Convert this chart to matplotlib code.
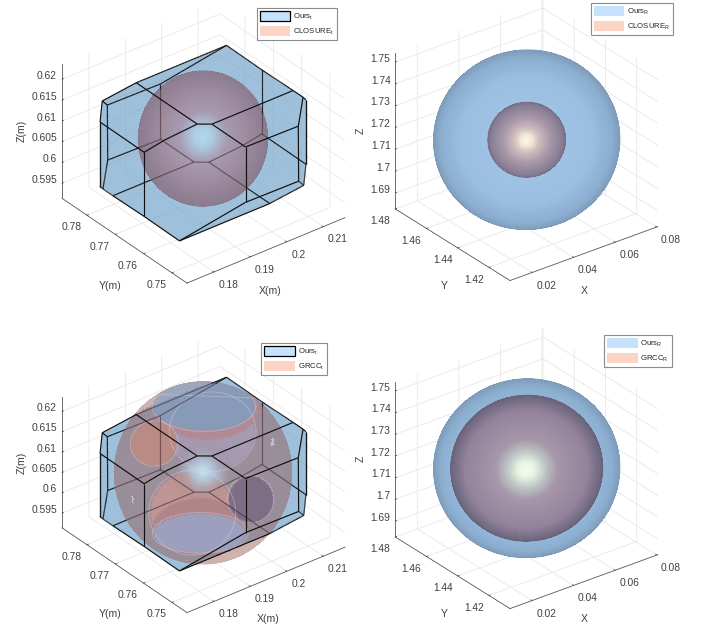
import numpy as np
import matplotlib
matplotlib.use('Agg')
import matplotlib.pyplot as plt
from matplotlib.patches import Patch
from matplotlib.path import Path
from mpl_toolkits.mplot3d.art3d import Poly3DCollection, Line3DCollection

plt.rcParams['font.family'] = ['Liberation Sans', 'DejaVu Sans']
plt.rcParams['mathtext.fontset'] = 'custom'
plt.rcParams['mathtext.rm'] = 'Liberation Sans'

W, H = 702, 627
TEXT = '#404040'

# axis ranges and ticks, translation panels
t_xlim = [0.1726, 0.2160]
t_ylim = [0.7447, 0.7888]
t_zlim = [0.5914, 0.6236]
t_xticks = [0.18, 0.19, 0.2, 0.21]
t_yticks = [0.75, 0.76, 0.77, 0.78]
t_zticks = [0.595, 0.6, 0.605, 0.61, 0.615, 0.62]
t_zlabels = ['0.595', '0.6', '0.605', '0.61', '0.615', '0.62']

# axis ranges and ticks, rotation panels
r_xlim = [0.0094, 0.0805]
r_ylim = [1.4065, 1.48]
r_zlim = [1.6827, 1.754]
r_xticks = [0.02, 0.04, 0.06, 0.08]
r_yticks = [1.42, 1.44, 1.46, 1.48]
r_zticks = [1.69, 1.7, 1.71, 1.72, 1.73, 1.74, 1.75]
r_zlabels = ['1.69', '1.7', '1.71', '1.72', '1.73', '1.74', '1.75']

# centres and radii
t_center = [0.1942, 0.7668, 0.607]
closure_t_center = [0.1942, 0.7668, 0.6081]
grcc_t_center = [0.1942, 0.7668, 0.6073]
r_center = [0.0487, 1.4481, 1.715]
closure_t_radius = 0.0140
grcc_t_radius = 0.0192
ours_r_radius = 0.0358
closure_r_radius = 0.0149
grcc_r_radius = 0.0292

# polytope vertices around t_center (in cm), the other half is the mirror image
ours_t_half = np.array([
    [1.814, 1.5, 1], [-0.666, 1.5, 1], [-0.666, -0.65, 1], [-0.416, -0.85, 1],
    [1.814, -0.85, 1], [1.814, -1.2, 1], [1.8, 0.235, 1], [-1.6, 1.5, 0.9],
    [-1.8, 1.32, 0.55], [-1.8, -0.235, 0.54], [-1.25, -0.235, 0.63], [0, -1.5, 0.6],
    [1.45, -1.5, 0.575], [0, -1.5, -0.73], [1.46, -1.5, -0.75], [1.8, -1.32, 1]])
ours_t_edges = [(0, 6), (6, 4), (4, 5), (0, 1), (1, 2), (2, 3), (3, 4), (1, 7), (7, 8), (8, 9),
                (9, 10), (10, 2), (9, 22), (3, 11), (11, 12), (11, 13), (12, 14), (13, 16),
                (13, 14), (12, 5), (14, 23), (5, 15), (15, 24), (8, 31)]
ours_t_faces = [[0, 1, 2, 3, 4, 6], [4, 5, 12, 11, 3], [11, 12, 14, 13], [16, 13, 14, 23, 17],
                [8, 9, 22, 21, 31], [10, 2, 3, 11, 13, 16, 22, 9], [1, 7, 8, 9, 10, 2],
                [5, 15, 24, 23, 14, 12]]
ours_t_outline = [0, 5, 15, 24, 23, 17, 16, 21, 31, 8, 7, 1]

# shading ramps: distance from the middle of the disc, then rgba
blue_stops = [0, 0.7, 0.92, 1]
blue_ramp = [(135, 180, 222, 0.75), (122, 168, 215, 0.75), (100, 145, 190, 0.75), (82, 122, 162, 0.75)]
closure_t_stops = [0, 0.12, 0.36, 0.65, 1]
closure_t_ramp = [(185, 232, 250, 0.6), (180, 215, 235, 0.6), (172, 130, 150, 0.6), (159, 104, 119, 0.6), (122, 76, 93, 0.6)]
closure_r_stops = [0, 0.15, 0.3, 0.6, 0.9, 1]
closure_r_ramp = [(255, 255, 232, 0.9), (255, 234, 206, 0.85), (219, 190, 181, 0.8), (169, 140, 154, 0.8), (131, 109, 129, 0.8), (110, 92, 116, 0.8)]
grcc_r_stops = [0, 0.1, 0.25, 0.4, 0.8, 1]
grcc_r_ramp = [(255, 255, 241, 0.9), (244, 253, 225, 0.85), (194, 196, 188, 0.8), (169, 140, 156, 0.8), (144, 115, 137, 0.8), (94, 77, 100, 0.8)]
grcc_t_stops = [0, 0.12, 0.3, 1]
grcc_t_ramp = [(205, 238, 250, 0.75), (190, 205, 220, 0.55), (150, 70, 60, 0.4), (140, 70, 60, 0.42)]
# patches where the sphere leaves the polytope: cx, cy, rx, ry on the disc, r, g, b, rim
grcc_t_patches = [
    (0.11, 0.44, 0.49, 0.44, 167, 145, 169, True),
    (0.04, 0.70, 0.61, 0.37, 180, 126, 131, False),
    (0.01, 0.72, 0.585, 0.28, 129, 145, 175, True),
    (-0.55, 0.31, 0.27, 0.25, 192, 126, 112, True),
    (-0.12, -0.45, 0.49, 0.46, 198, 139, 131, True),
    (-0.03, -0.60, 0.55, 0.32, 180, 118, 118, False),
    (-0.03, -0.67, 0.54, 0.22, 155, 151, 181, True),
    (0.54, -0.30, 0.26, 0.26, 117, 89, 112, True),
    (0.78, 0.32, 0.02, 0.05, 205, 185, 195, False),
    (-0.79, -0.31, 0.012, 0.04, 205, 190, 205, False)]

# screen layout: box middle in pixels, elev, azim, box sides
t_view = (32, -128)
r_view = (28.5, -127.4)
AX_SIZE = 300
POLY_FACE = np.array([0.42, 0.62, 0.78])
POLY_ALPHA = 0.4


def make_axes(cx, cy, view, box, xlim, ylim, zlim, xticks, yticks, zticks, zlabels):
    left = (cx - 0.5135 * AX_SIZE) / W
    bottom = (H - cy - 0.5135 * AX_SIZE) / H
    ax = plt.gcf().add_axes([left, bottom, AX_SIZE / W, AX_SIZE / H], projection='3d')
    ax.patch.set_alpha(0)
    ax.set_proj_type('ortho')
    ax.view_init(elev=view[0], azim=view[1])
    ax.computed_zorder = False
    s = np.array(box) / (AX_SIZE / 1.85)
    ax.set_box_aspect(s, zoom=np.linalg.norm(s) / (1.8294640721620434 * 25 / 24))
    ax.set_xlim(xlim)
    ax.set_ylim(ylim)
    ax.set_zlim(zlim)
    ax.set_xticks(xticks)
    ax.set_yticks(yticks)
    ax.set_zticks(zticks)
    ax.set_xticklabels([str(v) for v in xticks], ha='left')
    ax.set_yticklabels([str(v) for v in yticks], ha='right')
    ax.set_zticklabels(zlabels, ha='right', va='baseline')
    for axis in (ax.xaxis, ax.yaxis, ax.zaxis):
        axis.set_pane_color((1, 1, 1, 0))
        axis.pane.set_edgecolor((1, 1, 1, 0))
        axis.line.set_color('#555555')
        axis.line.set_linewidth(0.6)
        axis._axinfo['grid'].update(color='#e8e8e8', linewidth=0.6)
        axis._axinfo['tick'].update(inward_factor=0.0, outward_factor=0.12, linewidth={True: 0.5, False: 0.5})
    ax.tick_params(axis='x', labelsize=7.4, colors=TEXT, pad=-4)
    ax.tick_params(axis='y', labelsize=7.4, colors=TEXT, pad=-4)
    ax.tick_params(axis='z', labelsize=7.4, colors=TEXT, pad=-6)
    return ax


def add_names(names, spots):
    # axis names sit straight below the axes in the reference, so they are placed by hand
    for name, (px, py), rot in zip(names, spots, (0, 0, 90)):
        plt.gcf().text(px / W, 1 - py / H, name, fontsize=7.6, color=TEXT, rotation=rot, ha='center', va='center')


def view_basis(view):
    el, az = np.radians(view[0]), np.radians(view[1])
    v = np.array([np.cos(el) * np.cos(az), np.cos(el) * np.sin(az), np.sin(el)])
    e1 = np.array([-np.sin(az), np.cos(az), 0])
    e2 = np.cross(v, e1)
    return v, e1, e2


def ramp_colors(t, stops, ramp):
    ramp = np.array(ramp, dtype=float)
    out = np.zeros(t.shape + (4,))
    for i in range(4):
        out[..., i] = np.interp(t, stops, ramp[:, i])
    out[..., :3] /= 255
    return out


def flatten(rgba, under):
    return rgba[..., :3] * rgba[..., 3:] + under * (1 - rgba[..., 3:])


def white_under(sx, sy):
    return np.ones(sx.shape + (3,))


def polytope_under(center, radius, view, poly_center):
    # what lies behind a disc: polytope colour inside its outline, paper outside
    _, e1, e2 = view_basis(view)
    offs = np.vstack([ours_t_half, -ours_t_half]) * 0.01 + np.array(poly_center) - np.array(center)
    outline = offs[ours_t_outline]
    path = Path(np.column_stack([outline @ e1, outline @ e2]) / radius)
    inside_rgb = 1 - (1 - POLY_FACE) * (1 - (1 - POLY_ALPHA) ** 2)

    def under(sx, sy):
        pts = np.column_stack([sx.ravel(), sy.ravel()])
        mask = path.contains_points(pts).reshape(sx.shape)
        out = np.ones(sx.shape + (3,))
        out[mask] = inside_rgb
        return out
    return under


def blue_under(radius):
    def under(sx, sy):
        t = np.hypot(sx, sy) * radius / ours_r_radius
        return flatten(ramp_colors(t, blue_stops, blue_ramp), 1.0)
    return under


def draw_disc(ax, center, radius, view, stops, ramp, zorder, under, patches=None):
    # only the half of the sphere that faces the camera; colours flattened to avoid seams
    v, e1, e2 = view_basis(view)
    t = np.linspace(0, 1, 71)
    phi = np.linspace(0, 2 * np.pi, 141)
    T, P = np.meshgrid(t, phi, indexing='ij')
    c = np.sqrt(1 - T ** 2)
    X = center[0] + radius * (c * v[0] + T * (np.cos(P) * e1[0] + np.sin(P) * e2[0]))
    Y = center[1] + radius * (c * v[1] + T * (np.cos(P) * e1[1] + np.sin(P) * e2[1]))
    Z = center[2] + radius * (c * v[2] + T * (np.cos(P) * e1[2] + np.sin(P) * e2[2]))
    tm = 0.5 * (t[1:] + t[:-1])
    pm = 0.5 * (phi[1:] + phi[:-1])
    Tm, Pm = np.meshgrid(tm, pm, indexing='ij')
    sx, sy = Tm * np.cos(Pm), Tm * np.sin(Pm)
    rgba = ramp_colors(Tm, stops, ramp)
    if patches is not None:
        base = rgba.copy()
        for cx, cy, rx, ry, r, g, b, rim in patches:
            d = ((sx - cx) / rx) ** 2 + ((sy - cy) / ry) ** 2
            w = np.clip((1 - d) / 0.12, 0, 1)[..., None]
            rgba = rgba * (1 - w) + np.array([r / 255, g / 255, b / 255, 0.8]) * w
            if rim:
                a = np.linspace(0, 2 * np.pi, 121)
                ex, ey = cx + rx * np.cos(a), cy + ry * np.sin(a)
                keep = ex ** 2 + ey ** 2 < 0.99
                ex, ey = ex[keep], ey[keep]
                ez = np.sqrt(1 - ex ** 2 - ey ** 2)
                ring = np.array(center) + radius * (np.outer(ez, v) + np.outer(ex, e1) + np.outer(ey, e2))
                ax.plot(ring[:, 0], ring[:, 1], ring[:, 2], color=(0.84, 0.80, 0.88), alpha=0.45, lw=0.7,
                        zorder=zorder + 0.5)
        h = np.exp(-(Tm / 0.2) ** 2)[..., None]
        rgba = rgba * (1 - h) + base * h
    flat = flatten(rgba, under(sx, sy))
    colors = np.dstack([flat, np.ones(Tm.shape)])
    surf = ax.plot_surface(X, Y, Z, facecolors=colors, rstride=1, cstride=1, shade=False,
                           linewidth=0, antialiased=False, zorder=zorder)
    surf.set_edgecolor('none')
    # smooth rim over the aliased mesh
    ring = np.column_stack([X[-1], Y[-1], Z[-1]])
    ax.add_collection3d(Line3DCollection(np.stack([ring[:-1], ring[1:]], axis=1), colors=colors[-1],
                                         linewidths=0.8, zorder=zorder))


def draw_polytope(ax, center, view, sphere_center, sphere_radius):
    offs = np.vstack([ours_t_half, -ours_t_half])
    pts = np.array(center) + offs * 0.01
    n = len(ours_t_half)
    mirror = lambda i: (i + n) % (2 * n)
    faces = [[pts[i] for i in f] for f in ours_t_faces]
    faces += [[pts[mirror(i)] for i in f] for f in ours_t_faces]
    ax.add_collection3d(Poly3DCollection(faces, facecolors=tuple(POLY_FACE) + (POLY_ALPHA,), edgecolors='none', zorder=1))
    v, e1, e2 = view_basis(view)
    front, back, back_colors = [], [], []
    for a, b in ours_t_edges + [(mirror(a), mirror(b)) for a, b in ours_t_edges]:
        if np.dot(offs[a] + offs[b], v) >= 0:
            front.append([pts[a], pts[b]])
        else:
            # lines behind the sphere show through it faintly
            ends = np.linspace(pts[a], pts[b], 31)
            for p, q in zip(ends[:-1], ends[1:]):
                m = 0.5 * (p + q) - np.array(sphere_center)
                hidden = np.hypot(m @ e1, m @ e2) < sphere_radius
                back.append([p, q])
                back_colors.append((0.25, 0.15, 0.15, 0.6) if hidden else (0.08, 0.08, 0.08, 1))
    ax.add_collection3d(Line3DCollection(back, colors=back_colors, linewidths=0.85, zorder=3))
    ax.add_collection3d(Line3DCollection(front, colors='#101010', linewidths=0.85, zorder=4))


def add_legend(right, top, labels, outlined):
    blue = Patch(facecolor='#c5e1fb', edgecolor='black' if outlined else '#c5e1fb', linewidth=0.9 if outlined else 0)
    red = Patch(facecolor='#fdd3c6', edgecolor='#fdd3c6', linewidth=0)
    leg = plt.gcf().legend([blue, red], labels, loc='upper right', bbox_to_anchor=(right / W, 1 - top / H),
                           fontsize=5.6, handlelength=3.9, handleheight=1.6, labelspacing=0.45,
                           borderpad=0.4, handletextpad=0.35, borderaxespad=0, fancybox=False, framealpha=1,
                           edgecolor='#8c8c8c')
    leg.get_frame().set_linewidth(0.8)
    for txt in leg.get_texts():
        txt.set_color('#262626')


fig = plt.figure(figsize=(W / 100, H / 100), dpi=100)

ax1 = make_axes(203.5, 141, t_view, (200.5, 203, 158), t_xlim, t_ylim, t_zlim, t_xticks, t_yticks,
                t_zticks, t_zlabels)
draw_polytope(ax1, t_center, t_view, closure_t_center, closure_t_radius)
draw_disc(ax1, closure_t_center, closure_t_radius, t_view, closure_t_stops, closure_t_ramp, 2,
          polytope_under(closure_t_center, closure_t_radius, t_view, t_center))
add_names(('X(m)', 'Y(m)', 'Z(m)'), ((270, 291), (110, 286), (22, 131)))

ax2 = make_axes(526.5, 140, r_view, (186, 189, 177), r_xlim, r_ylim, r_zlim, r_xticks, r_yticks,
                r_zticks, r_zlabels)
draw_disc(ax2, r_center, ours_r_radius, r_view, blue_stops, blue_ramp, 1, white_under)
draw_disc(ax2, r_center, closure_r_radius, r_view, closure_r_stops, closure_r_ramp, 3, blue_under(closure_r_radius))
add_names(('X', 'Y', 'Z'), ((584, 291), (444, 286), (361, 131)))

ax3 = make_axes(203.5, 472, t_view, (200.5, 203, 154.5), t_xlim, t_ylim, t_zlim, t_xticks, t_yticks,
                t_zticks, t_zlabels)
draw_polytope(ax3, t_center, t_view, grcc_t_center, grcc_t_radius)
draw_disc(ax3, grcc_t_center, grcc_t_radius, t_view, grcc_t_stops, grcc_t_ramp, 2,
          polytope_under(grcc_t_center, grcc_t_radius, t_view, t_center), patches=grcc_t_patches)
add_names(('X(m)', 'Y(m)', 'Z(m)'), ((268, 619), (110, 614), (22, 463)))

ax4 = make_axes(526.5, 468.5, r_view, (186, 189, 176), r_xlim, r_ylim, r_zlim, r_xticks, r_yticks,
                r_zticks, r_zlabels)
draw_disc(ax4, r_center, ours_r_radius, r_view, blue_stops, blue_ramp, 1, white_under)
draw_disc(ax4, r_center, grcc_r_radius, r_view, grcc_r_stops, grcc_r_ramp, 3, blue_under(grcc_r_radius))
add_names(('X', 'Y', 'Z'), ((584, 619), (444, 614), (361, 459)))

add_legend(337, 8, [r'Ours$_{\mathrm{t}}$', r'CLOSURE$_{\mathrm{t}}$'], True)
add_legend(673, 3, [r'Ours$_{\mathrm{R}}$', r'CLOSURE$_{\mathrm{R}}$'], False)
add_legend(327, 343, [r'Ours$_{\mathrm{t}}$', r'GRCC$_{\mathrm{t}}$'], True)
add_legend(672, 335, [r'Ours$_{\mathrm{R}}$', r'GRCC$_{\mathrm{R}}$'], False)

plt.savefig('out.png', dpi=100)
